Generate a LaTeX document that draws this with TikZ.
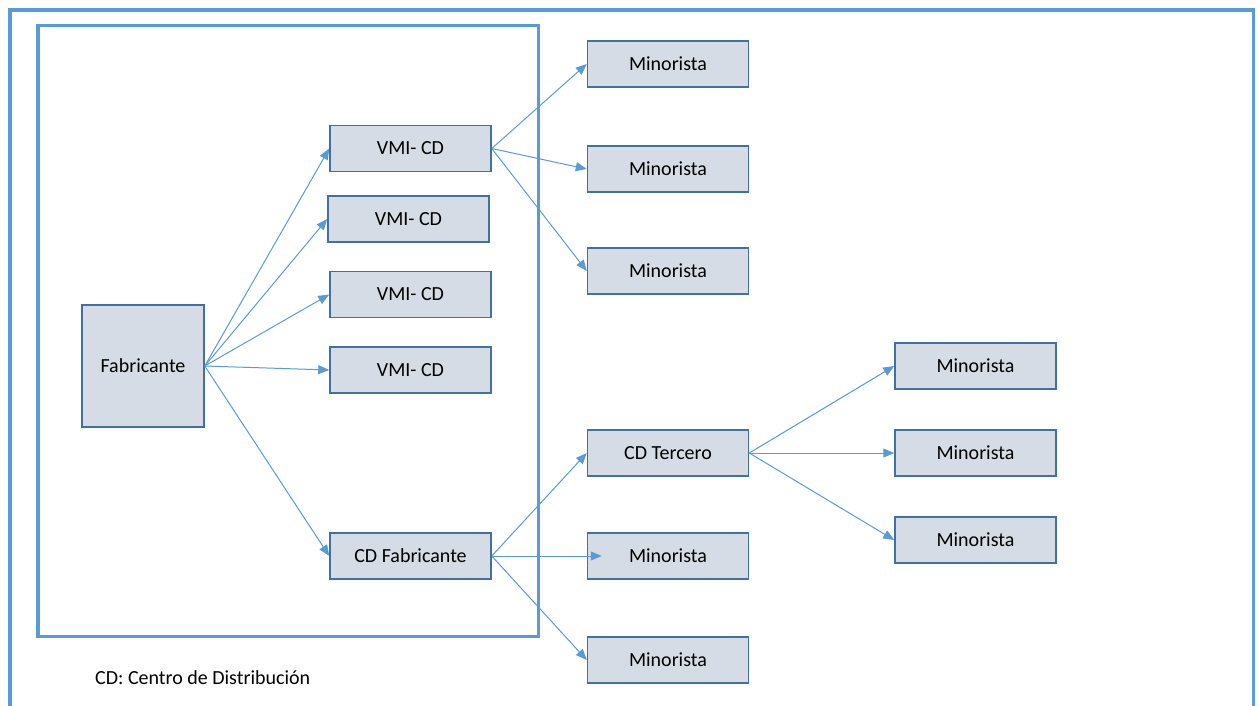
\documentclass[tikz,border=0pt]{standalone}
\usepackage{fontspec}
\setmainfont{Carlito}
\usetikzlibrary{arrows.meta}
\definecolor{framecol}{HTML}{5B9BD5}
\definecolor{boxline}{HTML}{41719C}
\definecolor{boxfill}{HTML}{D6DCE5}
\definecolor{arrowcol}{HTML}{5B9BD5}
\begin{document}
\begin{tikzpicture}[x=1pt,y=-1pt,
  frame/.style={draw=framecol,line width=3.3pt},
  box/.style={draw=boxline,fill=boxfill,line width=1.5pt,inner sep=0pt,
    minimum width=161pt,minimum height=46pt,text=black,
    font=\fontsize{20}{24}\selectfont},
  flow/.style={draw=arrowcol,line width=1pt,-{Triangle[length=11pt,width=9pt]}},
  note/.style={inner sep=0pt,anchor=west,font=\fontsize{20}{24}\selectfont}]
\useasboundingbox (0,0) rectangle (1260,705);
\fill[white] (0,0) rectangle (1260,705);
% outer frame (runs past the bottom edge) and enterprise boundary
\draw[frame] (10,725) -- (10,10) -- (1253.5,10) -- (1253.5,725);
\draw[frame] (38,25.7) rectangle (538.5,636.5);
% manufacturer and its distribution centres
\node[box,minimum width=122pt,minimum height=122pt] (fab) at (143,366) {Fabricante};
\node[box] (v1) at (410.5,148.5) {VMI- CD};
\node[box] (v2) at (408.5,219) {VMI- CD};
\node[box] (v3) at (410.5,294.5) {VMI- CD};
\node[box] (v4) at (410.5,370) {VMI- CD};
\node[box] (cdf) at (410.5,556) {CD Fabricante};
% first tier of retailers and third-party DC
\node[box] (m1) at (668,64) {Minorista};
\node[box] (m2) at (668,169) {Minorista};
\node[box] (m3) at (668,271) {Minorista};
\node[box] (ct) at (668,453) {CD Tercero};
\node[box] (m4) at (668,556) {Minorista};
\node[box] (m5) at (668,660) {Minorista};
% retailers served by the third-party DC
\node[box] (r1) at (975.5,366) {Minorista};
\node[box] (r2) at (975.5,453) {Minorista};
\node[box] (r3) at (975.5,540) {Minorista};
% legend
\node[note] (lbl) at (95,678) {CD: Centro de Distribución};
% flows
\foreach \t in {v1,v2,v3,v4,cdf} \draw[flow] (fab.east) -- (\t.west);
\foreach \t in {m1,m2,m3} \draw[flow] (v1.east) -- (\t.west);
\draw[flow] (cdf.east) -- (ct.west);
\draw[flow,shorten >=-15pt] (cdf.east) -- (m4.west);
\draw[flow] (cdf.east) -- (m5.west);
\foreach \t in {r1,r2,r3} \draw[flow] (ct.east) -- (\t.west);
\end{tikzpicture}
\end{document}
